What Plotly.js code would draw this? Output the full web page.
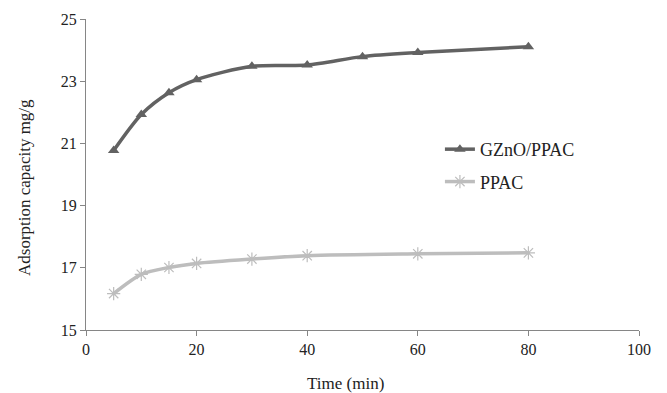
<!DOCTYPE html>
<html>
<head>
<meta charset="utf-8">
<script src="https://cdn.plot.ly/plotly-3.0.1.min.js"></script>
<style>
  html, body { margin: 0; padding: 0; background: #fff; }
  #chart { width: 667px; height: 393px; }
</style>
</head>
<body>
<div id="chart"></div>
<script>
// Contact time (min)
const timeGZnO = [5, 10, 15, 20, 30, 40, 50, 60, 80];
const timePPAC = [5, 10, 15, 20, 30, 40, 60, 80];
// Adsorption capacity (mg/g)
const capGZnO = [20.77, 21.93, 22.63, 23.05, 23.48, 23.52, 23.79, 23.92, 24.11];
const capPPAC = [16.17, 16.79, 17.01, 17.14, 17.28, 17.39, 17.45, 17.48];
const xTicks = [0, 20, 40, 60, 80, 100];
const yTicks = [15, 17, 19, 21, 23, 25];

const serif = "'Liberation Serif', 'Times New Roman', serif";

const traces = [
  {
    x: timeGZnO, y: capGZnO, name: 'GZnO/PPAC', type: 'scatter', mode: 'lines+markers',
    line: { color: '#626262', width: 3.5, shape: 'spline', smoothing: 0.8 },
    marker: { symbol: 'triangle-up', size: 10, color: '#626262' },
    legendgroup: 'a'
  },
  {
    x: timePPAC, y: capPPAC, name: 'PPAC', type: 'scatter', mode: 'lines+markers',
    line: { color: '#bdbdbd', width: 3.5, shape: 'spline', smoothing: 0.8 },
    marker: { symbol: 'asterisk-open', size: 11, color: '#bdbdbd', line: { color: '#bdbdbd', width: 1.2 } },
    legendgroup: 'b'
  }
];

const axisCommon = {
  showgrid: false, zeroline: false, showline: true, linecolor: '#868686', linewidth: 1,
  ticks: 'outside', ticklen: 5, tickcolor: '#868686', tickwidth: 1,
  tickfont: { family: serif, size: 16, color: '#222' }
};

const layout = {
  width: 667, height: 393,
  margin: { l: 86, r: 28, t: 19, b: 63 },
  paper_bgcolor: '#fff', plot_bgcolor: '#fff',
  font: { family: serif, color: '#222' },
  xaxis: Object.assign({}, axisCommon, { range: [0, 100], tickvals: xTicks }),
  yaxis: Object.assign({}, axisCommon, { range: [15, 25], tickvals: yTicks }),
  // axis titles, placed as free text
  annotations: [
    {
      text: 'Time (min)', xref: 'paper', yref: 'paper',
      x: (345.5 - 86) / 553, y: -(383 - 330) / 311, xanchor: 'center', yanchor: 'middle',
      showarrow: false, font: { family: serif, size: 17, color: '#222' }
    },
    {
      text: 'Adsorption capacity mg/g', xref: 'paper', yref: 'paper', textangle: -90,
      x: -(86 - 24) / 553, y: (330 - 188) / 311, xanchor: 'center', yanchor: 'middle',
      showarrow: false, font: { family: serif, size: 17, color: '#222' }
    }
  ],
  showlegend: true,
  legend: {
    x: 0.640, y: 0.64, xanchor: 'left', yanchor: 'top',
    font: { family: serif, size: 18, color: '#222' },
    bgcolor: 'rgba(0,0,0,0)', traceorder: 'grouped', tracegroupgap: 6,
    itemwidth: 30
  }
};

Plotly.newPlot('chart', traces, layout, { displayModeBar: false, staticPlot: true });
</script>
</body>
</html>
